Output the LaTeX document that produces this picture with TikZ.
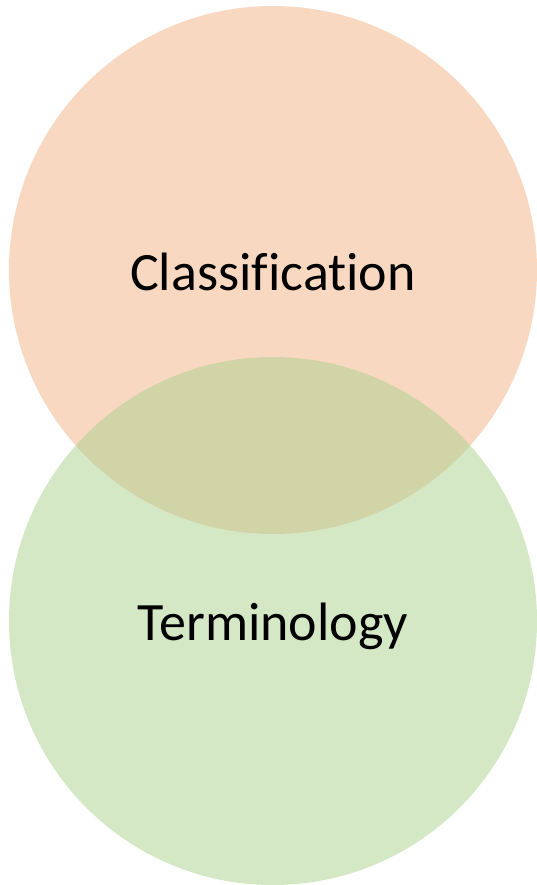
\documentclass[tikz,border=0pt]{standalone}
\usepackage{fontspec}
\setmainfont{Carlito}[Ligatures={NoCommon}]
\definecolor{peach}{HTML}{F4B183}
\definecolor{leaf}{HTML}{A9D18E}
\tikzset{
  venn/.style={circle, minimum size=528pt, inner sep=0pt, fill opacity=0.5, text opacity=1},
  lbl/.style={font=\fontsize{54}{58}\selectfont, text=black, anchor=base}
}
\begin{document}
\begin{tikzpicture}[x=1pt,y=-1pt]
\useasboundingbox (0,0) rectangle (537,885);
\node[venn, fill=peach] (top) at (273,270) {};
\node[venn, fill=leaf] (bottom) at (273,621) {};
\node[lbl] (cls) at (273,290) {Classification};
\node[lbl] (ter) at (273,640) {Terminology};
\end{tikzpicture}
\end{document}
